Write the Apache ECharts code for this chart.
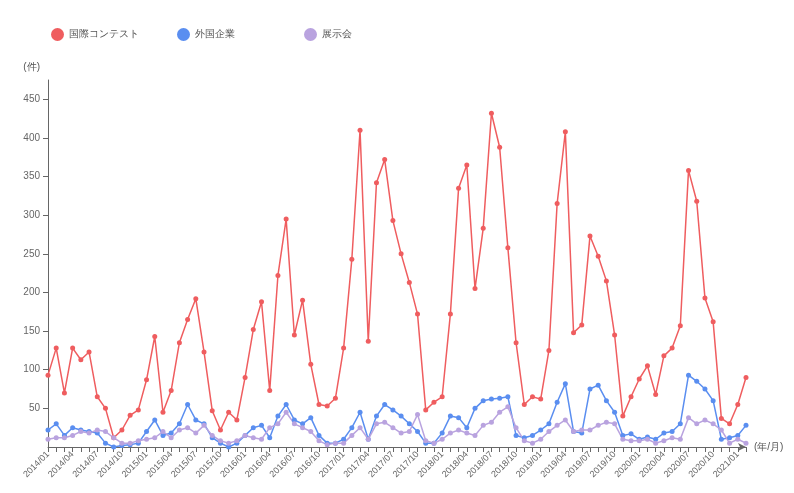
<!DOCTYPE html>
<html>
<head>
<meta charset="utf-8">
<script src="https://cdn.jsdelivr.net/npm/echarts@6/dist/echarts.min.js"></script>
<style>
  html, body { margin: 0; padding: 0; background: #fff; }
  #chart { width: 794px; height: 493px; }
</style>
</head>
<body>
<div id="chart"></div>
<script>
// Monthly counts, 2014/01 - 2021/02
const months = [];
for (let y = 2014; y <= 2021; y++) {
  for (let m = 1; m <= 12; m++) {
    if (y === 2021 && m > 2) break;
    months.push(y + '/' + String(m).padStart(2, '0'));
  }
}

const seriesNames = ['国際コンテスト', '外国企業', '展示会'];

const contest = [
  93, 128, 70, 128, 113, 123, 65, 50, 12, 22, 41, 48,
  87, 143, 45, 73, 135, 165, 192, 123, 47, 22, 45, 35,
  90, 152, 188, 73, 222, 295, 145, 190, 107, 55, 53, 63,
  128, 243, 410, 137, 342, 372, 293, 250, 213, 172, 48, 58,
  65, 172, 335, 365, 205, 283, 432, 388, 258, 135, 55, 65,
  62, 125, 315, 408, 148, 158, 273, 247, 215, 145, 40, 65,
  88, 105, 68, 118, 128, 157, 358, 318, 193, 162, 37, 30,
  55, 90
];

const companies = [
  22, 30, 15, 25, 22, 20, 18, 5, 0, 2, 3, 5,
  20, 35, 15, 18, 30, 55, 35, 30, 12, 5, 0, 5,
  15, 25, 28, 12, 40, 55, 35, 30, 38, 15, 5, 5,
  10, 25, 45, 10, 40, 55, 48, 40, 30, 20, 5, 5,
  18, 40, 38, 25, 50, 60, 62, 63, 65, 15, 12, 15,
  22, 30, 58, 82, 20, 18, 75, 80, 60, 45, 15, 17,
  10, 13, 10, 18, 20, 30, 93, 85, 75, 60, 10, 12,
  15, 28
];

const exhibitions = [
  10, 12, 12, 15, 20, 18, 22, 20, 12, 5, 5, 8,
  10, 12, 20, 12, 22, 25, 18, 28, 15, 8, 5, 8,
  15, 12, 10, 25, 30, 45, 30, 25, 20, 8, 3, 5,
  5, 15, 25, 10, 30, 32, 25, 18, 20, 42, 8, 5,
  10, 18, 22, 18, 15, 28, 32, 45, 52, 25, 8, 5,
  10, 20, 28, 35, 20, 22, 22, 28, 32, 30, 10, 8,
  8, 10, 5, 8, 12, 10, 38, 30, 35, 30, 22, 5,
  10, 5
];

const colors = ['#ef5d5f', '#5a8ef0', '#b9a3df'];
const legendLeft = [46, 172, 299];

const chart = echarts.init(document.getElementById('chart'));

const makeLine = (name, data, color) => ({
  name: name,
  type: 'line',
  data: data,
  symbol: 'circle',
  symbolSize: 5,
  lineStyle: { width: 1.5, color: color },
  itemStyle: { color: color }
});

const makeLegend = (name, left) => ({
  left: left,
  top: 23,
  itemWidth: 13,
  itemHeight: 13,
  itemGap: 6,
  icon: 'circle',
  textStyle: { fontSize: 10, color: '#555' },
  data: [name]
});

chart.setOption({
  animation: false,
  color: colors,
  legend: seriesNames.map((n, i) => makeLegend(n, legendLeft[i])),
  grid: { left: 48, right: 48, top: 80, bottom: 46 },
  xAxis: {
    type: 'category',
    data: months,
    boundaryGap: false,
    name: '(年/月)',
    nameGap: 8,
    nameTextStyle: { fontSize: 10, color: '#555' },
    axisLine: { lineStyle: { color: '#666' }, symbol: ['none', 'arrow'], symbolSize: [6, 8] },
    axisTick: { interval: 0, lineStyle: { color: '#666' } },
    axisLabel: { interval: 2, rotate: 45, fontSize: 9, color: '#666', margin: 6 }
  },
  yAxis: {
    type: 'value',
    min: 0,
    max: 475,
    interval: 50,
    name: '(件)',
    nameGap: 8,
    nameTextStyle: { fontSize: 10, color: '#555', align: 'right', padding: [0, 8, 0, 0] },
    axisLine: { show: true, lineStyle: { color: '#666' } },
    axisTick: { show: true, lineStyle: { color: '#666' } },
    axisLabel: { fontSize: 10, color: '#666', showMinLabel: false, showMaxLabel: false },
    splitLine: { show: false }
  },
  series: [
    makeLine(seriesNames[0], contest, colors[0]),
    makeLine(seriesNames[1], companies, colors[1]),
    makeLine(seriesNames[2], exhibitions, colors[2])
  ]
});
</script>
</body>
</html>
